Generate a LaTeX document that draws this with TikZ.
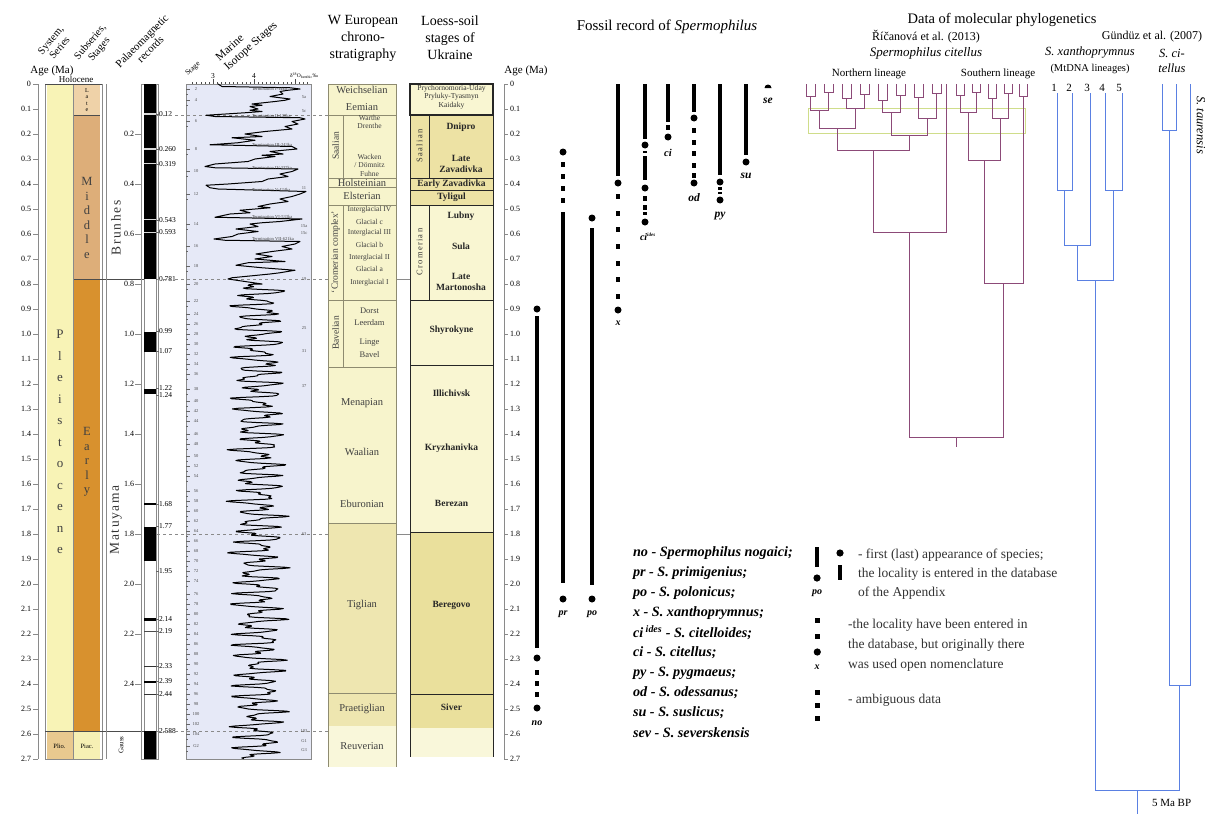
\documentclass[tikz,border=0pt]{standalone}
\usepackage{fontspec}
\setmainfont{Liberation Serif}
\definecolor{pleist}{HTML}{F8F3B6}
\definecolor{plioc}{HTML}{E9C98F}
\definecolor{latec}{HTML}{EFD2A8}
\definecolor{midc}{HTML}{DDAE79}
\definecolor{earlyc}{HTML}{D8912E}
\definecolor{piac}{HTML}{F6F0B4}
\definecolor{isobg}{HTML}{E6E9F7}
\definecolor{wpale}{HTML}{F7F4CC}
\definecolor{wdark}{HTML}{EEE6B0}
\definecolor{wlow}{HTML}{F9F7DA}
\definecolor{lpale}{HTML}{F9F6D2}
\definecolor{ldark}{HTML}{EDE2A4}
\definecolor{lber}{HTML}{EAE09C}
\definecolor{plum}{HTML}{8C4A78}
\definecolor{bluet}{HTML}{5A80E2}
\definecolor{ygreen}{HTML}{CFDD8A}
\definecolor{frame}{HTML}{8A8A8A}
\definecolor{wline}{HTML}{8E8B70}
\begin{document}
\begin{tikzpicture}[x=1pt,y=-1pt,
  txt/.style={inner sep=0pt,outer sep=0pt},
  fs/.style={font={\fontsize{#1}{#1}\selectfont}},
  fsb/.style 2 args={font={\fontsize{#1}{#2}\selectfont}},
  gl/.style={draw=frame,line width=0.7pt},
  wl/.style={draw=wline,line width=0.8pt},
  ll/.style={draw=black!85,line width=0.9pt},
  wn/.style={txt,font={\fontsize{10.5}{12}\selectfont},text=black!75},
  ws/.style={txt,font={\fontsize{7.5}{8.5}\selectfont},text=black!75},
  ln/.style={txt,font={\fontsize{9.5}{11}\selectfont\bfseries},text=black!85},
  fbar/.style={line width=4pt},
  fl/.style={txt,font={\fontsize{11.5}{12}\selectfont\bfseries\itshape}},
  leg/.style={txt,anchor=west,font={\fontsize{14.2}{15}\selectfont\bfseries\itshape}},
  legr/.style={txt,anchor=west,font={\fontsize{13.5}{15}\selectfont},text=black!80},
  tt/.style={txt,font={\fontsize{14}{17}\selectfont}},
  ptree/.style={draw=plum,line width=1pt},
  btree/.style={draw=bluet,line width=1pt},
  stg/.style={txt,font={\fontsize{4.5}{5}\selectfont},text=black!70},
  term/.style={txt,anchor=west,font={\fontsize{4.5}{5}\selectfont},text=black!75}
]
\fill[white] (0,0) rectangle (1213,814);
\useasboundingbox (0,0) rectangle (1213,814);

% ---------------- headers ----------------
\node[txt,fs=11] (agel) at (52,71) {Age (Ma)};
\node[txt,fsb={10.5}{11.5},rotate=50,align=center] (hsys) at (55,44) {System,\\Series};
\node[txt,fsb={10.5}{11.5},rotate=50,align=center] (hsub) at (95,46) {Subseries,\\Stages};
\node[txt,fsb={11}{12},rotate=45,align=center] (hpal) at (146,45) {Palaeomagnetic\\records};
\node[txt,fs=7.5,rotate=42] (hstage) at (193,69) {Stage};
\node[txt,fsb={11.5}{12.5},rotate=42,align=left] (hmis) at (247,42) {Marine\\Isotope Stages};
\node[tt,align=center] (hwe) at (363,38) {W European\\chrono-\\stratigraphy};
\node[tt,align=center] (hlo) at (450,38) {Loess-soil\\stages of\\Ukraine};
\node[txt,fs=11] (agr) at (526,71) {Age (Ma)};
\node[tt,font={\fontsize{15}{17}\selectfont}] (hfos) at (667,27) {Fossil record of \textit{Spermophilus}};

% ---------------- left age axis ----------------
\draw[gl] (38,84) -- (38,759);
\foreach \i in {0,...,27}{
  \pgfmathtruncatemacro\ip{\i/10}\pgfmathtruncatemacro\fp{\i-10*\ip}
  \draw[gl] (33,{84+25*\i}) -- (38,{84+25*\i});
  \node[txt,fs=8,anchor=east] (la\i) at (31,{84+25*\i}) {\ifnum\i=0 0\else\ip.\fp\fi};
}

% ---------------- system / subseries columns ----------------
\fill[pleist] (47,84) rectangle (72.5,731);
\fill[plioc] (47,731) rectangle (72.5,759);
\fill[latec] (74,84) rectangle (100,115.5);
\fill[midc] (74,115.5) rectangle (100,279.25);
\fill[earlyc] (74,279.25) rectangle (100,731);
\fill[piac] (74,731) rectangle (100,759);
\draw[gl] (45,84) rectangle (102,759);
\draw[gl] (73.2,84) -- (73.2,759);
\draw[black!70,line width=0.8pt] (74,115.5) -- (100,115.5);
\draw[black!70,line width=0.8pt] (74,279.25) -- (144,279.25);
\draw[black!70,line width=0.8pt] (45,731) -- (144,731);
\draw[black!70,line width=0.6pt] (45,84) -- (102,84);
\node[txt,fs=9] (holo) at (76,79.5) {Holocene};
\node[txt,fsb={6}{6.5},align=center] (late) at (87,100) {L\\a\\t\\e};
\node[txt,fsb={12.5}{14.5},align=center,text=black!75] (mid) at (87,218) {M\\i\\d\\d\\l\\e};
\node[txt,fsb={12.5}{14.5},align=center,text=black!75] (ear) at (87,462) {E\\a\\r\\l\\y};
\node[txt,fsb={13}{21.5},align=center,text=black!75] (ple) at (60,442) {P\\l\\e\\i\\s\\t\\o\\c\\e\\n\\e};
\node[txt,fs=6.5] (plio) at (59.5,746) {Plio.};
\node[txt,fs=6.5] (piacn) at (87,746) {Piac.};

% ---------------- palaeomagnetic ----------------
\draw[gl] (106,84) -- (106,759);
\draw[gl] (141,84) rectangle (158,759);
\fill[white] (144,84) rectangle (156,759);
\draw[gl] (144,84) rectangle (156,759);
\fill[black] (144,84) rectangle (156,279.25);
\fill[black] (144,331.5) rectangle (156,351.5);
\fill[black] (144,388.5) rectangle (156,393.5);
\fill[black] (144,503) rectangle (156,505);
\fill[black] (144,526.5) rectangle (156,561);
\fill[black] (144,618) rectangle (156,620.5);
\fill[black!70] (144,631) rectangle (156,632.3);
\fill[black!80] (144,666) rectangle (156,667.4);
\fill[black] (144,681) rectangle (156,682.6);
\fill[black!80] (144,693.5) rectangle (156,695);
\fill[black] (144,731) rectangle (156,759);
\foreach \y in {114,149,163.75,219.75,232.25}{
  \draw[white!70!gray,line width=1.3pt] (144,\y) -- (156,\y);
}
\foreach \y/\t [count=\k] in {114/0.12,149/0.260,163.75/0.319,219.75/0.543,232.25/0.593,279.25/0.781,331.5/0.99,351.5/1.07,388/1.22,395/1.24,504/1.68,526.5/1.77,571.5/1.95,619/2.14,631.5/2.19,666.5/2.33,681.5/2.39,694/2.44,731/2.588}{
  \draw[black!60,line width=0.5pt] (156,\y) -- (159,\y);
  \node[txt,fs=7.5,anchor=west] (mg\k) at (159,\y) {\t};
}
\foreach \i in {2,4,...,24}{
  \pgfmathtruncatemacro\ip{\i/10}\pgfmathtruncatemacro\fp{\i-10*\ip}
  \draw[gl] (135,{84+25*\i}) -- (141,{84+25*\i});
  \node[txt,fs=8,anchor=east] (ma\i) at (134,{84+25*\i}) {\ip.\fp};
}
\node[txt,fs=13.5,rotate=90,text=black!80] (brun) at (116,228) {\addfontfeature{LetterSpace=12}Brunhes};
\node[txt,fs=13.5,rotate=90,text=black!80] (matu) at (116,520) {\addfontfeature{LetterSpace=12}Matuyama};
\node[txt,fs=7,rotate=90] (gaus) at (121,745) {Gauss};

% ---------------- marine isotope panel ----------------
\draw[gl,fill=isobg] (186,84) rectangle (311,759);
\foreach \i in {0,...,28}{
  \pgfmathsetmacro\xx{192.5+4.1*\i}
  \pgfmathtruncatemacro\mm{mod(\i,10)}
  \ifnum\mm=5 \draw[black!70,line width=0.5pt] (\xx,84) -- (\xx,79);
  \else \draw[black!70,line width=0.4pt] (\xx,84) -- (\xx,81.5); \fi
}
\node[txt,fs=7.5] (d3) at (213,76) {3};
\node[txt,fs=7.5] (d4) at (254,76) {4};
\node[txt,fs=5.5,anchor=west] (dlab) at (290,76) {δ\textsuperscript{18}O\textsubscript{benthic}‰};
\draw[frame,dashed,line width=0.4pt] (157,115.5) -- (330,115.5);
\draw[frame,dashed,line width=0.4pt] (157,279.25) -- (330,279.25);
\draw[frame,dashed,line width=0.4pt] (157,534) -- (330,534);
\draw[frame,dashed,line width=0.4pt] (157,731) -- (330,731);
\draw[frame,line width=0.4pt] (396,279.25) -- (410,279.25);
\draw[frame,line width=0.4pt] (396,534) -- (410,534);
\foreach \s/\a [count=\k] in {2/0.02,4/0.065,6/0.15,8/0.26,10/0.35,12/0.44,14/0.56,16/0.65,18/0.73,20/0.80,22/0.87,24/0.92,26/0.96,28/1.0,30/1.04,32/1.08,34/1.12,36/1.16,38/1.22,40/1.27,42/1.31,44/1.35,46/1.40,48/1.44,50/1.49,52/1.53,54/1.57,56/1.63,58/1.67,60/1.71,62/1.75,64/1.79,66/1.83,68/1.87,70/1.91,72/1.95,74/1.99,76/2.04,78/2.08,80/2.12,82/2.16,84/2.2,86/2.24,88/2.28,90/2.32,92/2.36,94/2.40,96/2.44,98/2.48,100/2.52,102/2.56,104/2.6,G2/2.65}{
  \draw[black!60,line width=0.4pt] (186,{84+250*\a}) -- (189.5,{84+250*\a});
  \draw[black!60,line width=0.4pt] (186,{84+250*\a+5}) -- (188,{84+250*\a+5});
  \node[stg] (st\k) at (196,{84+250*\a}) {\s};
}
\begin{scope}[yshift=-84pt,y=-250pt]
\draw[black,line width=1pt,line join=round] plot coordinates {
(218,0) (222,0.01) (290,0.015) (300,0.02) (288,0.025) (280,0.03) (283,0.04) (270,0.05) (290,0.06) (285,0.065) (275,0.07) (252,0.08) (262,0.085) (250,0.09) (258,0.1) (250,0.105) (262,0.11) (245,0.115) (206,0.125) (215,0.13) (300,0.135) (305,0.14) (292,0.15) (298,0.16) (285,0.17) (292,0.18) (265,0.19) (245,0.2) (262,0.21) (232,0.215) (255,0.225) (238,0.235) (210,0.243) (292,0.25) (297,0.26) (270,0.27) (283,0.28) (262,0.285) (275,0.29) (255,0.3) (248,0.31) (215,0.32) (205,0.33) (215,0.335) (298,0.34) (292,0.35) (280,0.36) (288,0.37) (268,0.38) (262,0.39) (228,0.4) (206,0.405) (210,0.415) (218,0.42) (306,0.43) (300,0.44) (292,0.45) (280,0.46) (288,0.47) (270,0.48) (258,0.49) (270,0.495) (240,0.505) (250,0.515) (230,0.52) (215,0.533) (302,0.54) (280,0.55) (262,0.555) (250,0.56) (258,0.57) (236,0.58) (258,0.59) (238,0.6) (232,0.61) (214,0.62) (225,0.625) (300,0.63) (295,0.64) (282,0.65) (292,0.66) (272,0.67) (256,0.68) (272,0.69) (255,0.7) (285,0.71) (248,0.715) (236,0.725) (262,0.735) (295,0.745) (280,0.755) (270,0.76) (232,0.775) (228,0.78) (245,0.79) (262,0.8)}
 -- plot[domain=0.8:2.7,samples=700,variable=\t]
 ({258+17*sin(360*mod(\t/0.041,1))+8*sin(360*mod(\t/0.023,1)+50)+5*sin(360*mod(\t/0.0137,1)+10)+4*sin(360*mod(\t/0.1,1))},\t);
\end{scope}
\foreach \t/\y [count=\k] in {Termination I-14ka/89,Termination II-130ka/116,Termination III-243ka/145,Termination IV-337ka/168,Termination V-424ka/190,Termination VI-533ka/217,Termination VII-621ka/239}{
  \node[term] (tm\k) at (252,\y) {\t};
}
\foreach \t/\y [count=\k] in {5a/97,5c/111,11/188,15a/226,15c/233,19/279,25/328,31/351,37/386,63/534,103/731,G1/741,G3/750}{
  \node[stg] (rs\k) at (304,\y) {\t};
}

% ---------------- W European chronostratigraphy ----------------
\draw[wl,fill=wpale] (328,84) rectangle (396,115.5);
\draw[wl,fill=wpale] (328,115.5) rectangle (396,178);
\draw[wl] (343,115.5) -- (343,178);
\draw[wl,fill=wpale] (328,178) rectangle (396,187);
\draw[wl,fill=wpale] (328,187) rectangle (396,205);
\draw[wl,fill=wpale] (328,205) rectangle (396,300);
\draw[wl] (343,205) -- (343,300);
\draw[wl,fill=wpale] (328,300) rectangle (396,367);
\draw[wl] (343,300) -- (343,367);
\draw[wl,fill=wpale] (328,367) rectangle (396,523);
\draw[wl,fill=wdark] (328,523) rectangle (396,693);
\draw[wl,fill=wdark] (328,693) rectangle (396,726);
\fill[wlow] (328,726) rectangle (396,767);
\draw[wl] (328,726) -- (328,767) (396,726) -- (396,767);
\node[wn] (weich) at (362,90) {Weichselian};
\node[wn] (eem) at (362,107) {Eemian};
\node[txt,fs=9.5,rotate=90,text=black!75] (wsaal) at (335.5,146) {Saalian};
\node[ws,align=center] (warthe) at (369.5,122) {Warthe\\Drenthe};
\node[ws,align=center] (wacken) at (369.5,165) {Wacken\\/ Dömnitz\\Fuhne};
\node[wn] (hols) at (362,182.5) {Holsteinian};
\node[wn] (elst) at (362,196) {Elsterian};
\node[txt,fs=9.5,rotate=90,text=black!75] (wcrom) at (335.5,252) {‘Cromerian complex’};
\foreach \t/\y [count=\k] in {Interglacial IV/210,Glacial c/222,Interglacial III/233,Glacial b/245,Interglacial II/258,Glacial a/269,Interglacial I/283}{
  \node[ws] (ig\k) at (369.5,\y) {\t};
}
\node[txt,fs=9.5,rotate=90,text=black!75] (wbav) at (335.5,333) {Bavelian};
\foreach \t/\y [count=\k] in {Dorst/311,Leerdam/323,Linge/343,Bavel/355}{
  \node[ws,font={\fontsize{8.5}{9}\selectfont}] (bv\k) at (369.5,\y) {\t};
}
\node[wn] (mena) at (362,403) {Menapian};
\node[wn] (waal) at (362,452) {Waalian};
\node[wn] (ebur) at (362,504) {Eburonian};
\node[wn] (tigl) at (362,605) {Tiglian};
\node[wn] (prae) at (362,709) {Praetiglian};
\node[wn] (reuv) at (362,746) {Reuverian};

% ---------------- Loess-soil stages ----------------
\draw[ll,fill=lpale,line width=1.3pt] (410,84) rectangle (493,115);
\draw[ll,fill=ldark] (410,115) rectangle (493,178);
\draw[ll] (429,115) -- (429,178);
\draw[ll,fill=ldark] (410,178) rectangle (493,190);
\draw[ll,fill=ldark] (410,190) rectangle (493,205);
\draw[ll,fill=lpale] (410,205) rectangle (493,300);
\draw[ll] (429,205) -- (429,300);
\draw[ll,fill=lpale] (410,300) rectangle (493,365);
\draw[ll,fill=lpale] (410,365) rectangle (493,532);
\draw[ll,fill=lber] (410,532) rectangle (493,694);
\draw[ll,fill=lber] (410,694) rectangle (493,728);
\fill[wlow] (410,728) rectangle (493,757);
\draw[ll] (410,728) -- (410,757) (493,728) -- (493,757);
\node[txt,fsb={7.6}{8.2},align=center,text=black!80] (pryc) at (451.5,97) {Prychornomoria-Uday\\Pryluky-Tyasmyn\\Kaidaky};
\node[txt,fs=8.5,rotate=90,text=black!80] (lsaal) at (419.5,146) {\addfontfeature{LetterSpace=15}Saalian};
\node[ln] (dnip) at (461,127) {Dnipro};
\node[ln,align=center] (lzav) at (461,164) {Late\\Zavadivka};
\node[ln] (ezav) at (451.5,184) {Early Zavadivka};
\node[ln] (tyl) at (451.5,197.5) {Tyligul};
\node[txt,fs=8.5,rotate=90,text=black!80] (lcrom) at (419.5,252) {\addfontfeature{LetterSpace=15}Cromerian};
\node[ln] (lub) at (461,216) {Lubny};
\node[ln] (sula) at (461,246) {Sula};
\node[ln,align=center] (lmar) at (461,282) {Late\\Martonosha};
\node[ln] (shyr) at (451.5,330) {Shyrokyne};
\node[ln] (illi) at (451.5,393) {Illichivsk};
\node[ln] (kryz) at (451.5,448) {Kryzhanivka};
\node[ln] (bere) at (451.5,503) {Berezan};
\node[ln] (bergv) at (451.5,605) {Beregovo};
\node[ln] (siv) at (451.5,707) {Siver};

% ---------------- right age axis ----------------
\draw[gl] (504,84) -- (504,759);
\foreach \i in {0,...,27}{
  \pgfmathtruncatemacro\ip{\i/10}\pgfmathtruncatemacro\fp{\i-10*\ip}
  \draw[gl] (504,{84+25*\i}) -- (508,{84+25*\i});
  \node[txt,fs=8,anchor=west] (ra\i) at (510,{84+25*\i}) {\ifnum\i=0 0\else\ip.\fp\fi};
}

% ---------------- fossil record ----------------
% no
\fill (537,309) circle (3.5);
\draw[fbar] (537,316) -- (537,648);
\fill (537,658) circle (3.5);
\foreach \y in {672,683,694}{\fill (535,\y-2.5) rectangle ++(4,5);}
\fill (537,708) circle (3.5);
\node[fl,font={\fontsize{10}{10}\selectfont\bfseries\itshape}] (lno) at (537,723) {no};
% pr
\fill (563,152) circle (3.5);
\foreach \y in {164,176,188,200}{\fill (561,\y-2.5) rectangle ++(4,5);}
\draw[fbar] (563,212) -- (563,583);
\fill (563,599) circle (3.5);
\node[fl,font={\fontsize{10}{10}\selectfont\bfseries\itshape}] (lpr) at (563,614) {pr};
% po
\fill (592,218) circle (3.5);
\draw[fbar] (592,228) -- (592,585);
\fill (592,599) circle (3.5);
\node[fl,font={\fontsize{10}{10}\selectfont\bfseries\itshape}] (lpo) at (592,614) {po};
% x
\draw[fbar] (618,84) -- (618,176);
\fill (618,183) circle (3.5);
\foreach \y in {196,213,229,246,263,279,296}{\fill (616,\y-2.5) rectangle ++(4,5);}
\fill (618,310) circle (3.5);
\node[fl,font={\fontsize{10}{10}\selectfont\bfseries\itshape}] (lx) at (618,323) {x};
% ci ides
\draw[fbar] (645,84) -- (645,139);
\fill (645,145) circle (3.5);
\draw[fbar] (645,151) -- (645,153);
\draw[fbar] (645,156) -- (645,180);
\fill (645,188) circle (3.5);
\foreach \y in {198,207}{\fill (643,\y-2.5) rectangle ++(4,5);}
\fill (643,212) rectangle ++(4,3);
\fill (645,222) circle (3.5);
\node[fl,anchor=west,font={\fontsize{10}{10}\selectfont\bfseries\itshape}] (lcid) at (640,237) {ci\textsuperscript{\fontsize{5}{5}\selectfont ides}};
% ci
\draw[fbar] (668,84) -- (668,122);
\fill (666,125) rectangle ++(4,5);
\fill (668,137) circle (3.5);
\node[fl,font={\fontsize{10.5}{10.5}\selectfont\bfseries\itshape}] (lci) at (668,153) {ci};
% od
\draw[fbar] (694,84) -- (694,112);
\fill (694,118) circle (3.5);
\foreach \y in {130,142,153,165,175}{\fill (692,\y-2.5) rectangle ++(4,5);}
\fill (694,183) circle (3.5);
\node[fl] (lod) at (694,198) {od};
% py
\draw[fbar] (720,84) -- (720,175);
\fill (720,182) circle (3.5);
\fill (718,187) rectangle ++(4,2.5);
\fill (718,191.5) rectangle ++(4,2.5);
\fill (720,200) circle (3.5);
\node[fl] (lpy) at (720,216) {py};
% su
\draw[fbar] (746,84) -- (746,155);
\fill (746,162) circle (3.5);
\node[fl] (lsu) at (746,176) {su};
% se
\fill (768,88) -- (771.5,88) arc (0:-180:3.5) -- cycle;
\node[fl] (lse) at (768,101) {se};

% ---------------- legend ----------------
\foreach \t/\y [count=\k] in {no - Spermophilus nogaici;/553,pr - S. primigenius;/573,po - S. polonicus;/593,x - S. xanthoprymnus;/613,{ci\textsuperscript{ ides} - S. citelloides;}/633,ci - S. citellus;/653,py - S. pygmaeus;/673,od - S. odessanus;/693,su - S. suslicus;/713,sev - S. severskensis/733}{
  \node[leg] (lg\k) at (633,\y) {\t};
}
\draw[line width=4.5pt] (817,547) -- (817,567);
\fill (817,578) circle (3.6);
\node[fl,font={\fontsize{10}{10}\selectfont\bfseries\itshape}] (lgpo) at (817,593) {po};
\fill (840,553) circle (3.6);
\draw[line width=4.5pt] (840,565) -- (840,580);
\fill (815,617.5) rectangle ++(4.5,5);
\fill (815,633.5) rectangle ++(4.5,5);
\fill (817.3,652) circle (3.6);
\node[fl,font={\fontsize{10}{10}\selectfont\bfseries\itshape}] (lgx) at (817,667) {x};
\foreach \y in {692,705,718}{\fill (815,\y-2.5) rectangle ++(4.5,5);}
\node[legr] (lr1) at (858,555) {- first (last) appearance of species;};
\node[legr] (lr2) at (858,574) {the locality is entered in the database};
\node[legr] (lr3) at (858,593) {of the Appendix};
\node[legr] (lr4) at (848,625) {-the locality have been entered in};
\node[legr] (lr5) at (848,645) {the database, but originally there};
\node[legr] (lr6) at (848,665) {was used open nomenclature};
\node[legr] (lr7) at (848,700) {- ambiguous data};

% ---------------- molecular phylogenetics ----------------
\node[txt,font={\fontsize{14.5}{17}\selectfont}] (hmol) at (1002,20) {Data of molecular phylogenetics};
\node[txt,fs=12] (hric) at (926,37) {Říčanová et al. (2013)};
\node[txt,fs=12] (hgun) at (1152,37) {Gündüz et al. (2007)};
\node[txt,fs=13] (hspc) at (926,53) {\textit{Spermophilus citellus}};
\node[txt,fs=12.5] (hxan) at (1090,53) {\textit{S. xanthoprymnus}};
\node[txt,fs=10.5] (hmt) at (1090,69) {(MtDNA lineages)};
\node[txt,fs=12.5] (hci1) at (1172,53) {\textit{S. ci-}};
\node[txt,fs=12.5] (hci2) at (1172,68) {\textit{tellus}};
\node[txt,fs=11] (hnor) at (869,74) {Northern lineage};
\node[txt,fs=11] (hsou) at (998,74) {Southern lineage};
\node[txt,fs=12.5,rotate=-90] (htau) at (1201,125) {\textit{S. taurensis}};
\draw[draw=ygreen,line width=0.8pt] (808,108) rectangle (1025,133);
% northern lineage
\draw[ptree] (806,84) |- (815,96) -- (815,84);
\draw[ptree] (824,84) |- (833,92) -- (833,84);
\draw[ptree] (842,84) |- (851,98) -- (851,84);
\draw[ptree] (860,84) |- (869,94) -- (869,84);
\draw[ptree] (878,84) |- (887,100) -- (887,84);
\draw[ptree] (896,84) |- (905,95) -- (905,84);
\draw[ptree] (914,84) |- (923,97) -- (923,84);
\draw[ptree] (932,84) |- (941,93) -- (941,84);
\draw[ptree] (810.5,96) |- (828.5,110) -- (828.5,92);
\draw[ptree] (846.5,98) |- (864.5,108) -- (864.5,94);
\draw[ptree] (882.5,100) |- (900.5,112) -- (900.5,95);
\draw[ptree] (918.5,97) |- (936.5,118) -- (936.5,93);
\draw[ptree] (819.5,110) |- (855.5,128) -- (855.5,108);
\draw[ptree] (891.5,112) |- (927.5,135) -- (927.5,118);
\draw[ptree] (837.5,128) |- (909.5,150) -- (909.5,135);
\draw[ptree] (873.5,150) |- (946,232) -- (946,84);
% southern lineage
\draw[ptree] (956,84) |- (964,95) -- (964,84);
\draw[ptree] (972,84) |- (980,92) -- (980,84);
\draw[ptree] (988,84) |- (996,98) -- (996,84);
\draw[ptree] (1004,84) |- (1012,93) -- (1012,84);
\draw[ptree] (1019,84) |- (1027,96) -- (1027,84);
\draw[ptree] (960,95) |- (976,112) -- (976,92);
\draw[ptree] (992,98) |- (1008,118) -- (1008,93);
\draw[ptree] (968,112) |- (1000,160) -- (1000,118);
\draw[ptree] (984,160) |- (1023,283) -- (1023,96);
\draw[ptree] (909.75,232) |- (1003.5,437) -- (1003.5,283);
\draw[ptree] (956.6,437) -- (956.6,447);
% blue tree
\foreach \x/\n in {1057/1,1072/2,1090/3,1105/4,1122/5}{
  \node[txt,fs=11] (num\n) at (\x-3,88) {\n};
}
\draw[btree] (1057,93) |- (1072,190) -- (1072,93);
\draw[btree] (1105,93) |- (1122,190) -- (1122,93);
\draw[btree] (1064.5,190) |- (1090,245) -- (1090,93);
\draw[btree] (1077,245) |- (1113.5,280) -- (1113.5,190);
\draw[btree] (1162,84) |- (1176,130) -- (1176,84);
\draw[btree] (1169,130) |- (1190,685) -- (1190,84);
\draw[btree] (1095,280) |- (1179.5,790) -- (1179.5,685);
\draw[btree] (1137,790) -- (1137,814);
\node[txt,fs=11,anchor=west] (ma5) at (1152,803) {5 Ma BP};
\end{tikzpicture}
\end{document}
